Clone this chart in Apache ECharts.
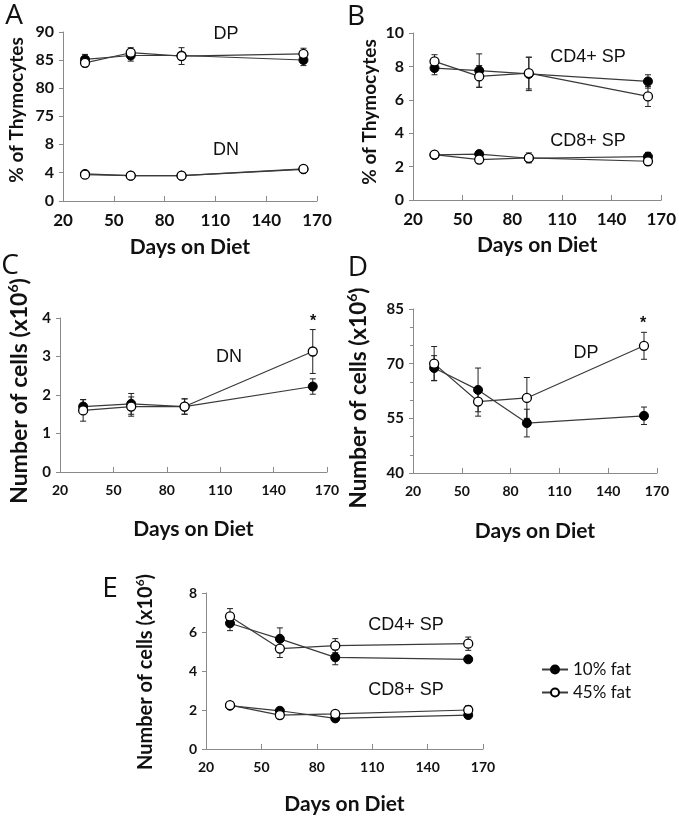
<!DOCTYPE html>
<html>
<head>
<meta charset="utf-8">
<script src="https://cdn.jsdelivr.net/npm/echarts@6/dist/echarts.min.js"></script>
<style>html,body{margin:0;padding:0;background:#fff}#c{width:679px;height:818px}</style>
</head>
<body>
<div id="c"></div>
<script>
// ---- data ----
const days = [33, 60, 90, 162];
const xTickMin = 20, xTickMax = 170, xTickStep = 30;
const seriesNames = ['10% fat', '45% fat'];

// Panel A (% of thymocytes)
const aDP_10 = [85.1, 85.8, 85.8, 85.0];
const aDP_10_err = [0.9, 1.0, 0.5, 1.0];
const aDP_45 = [84.5, 86.3, 85.7, 86.1];
const aDP_45_err = [0.7, 0.9, 1.5, 1.0];
const aDN_10 = [3.8, 3.55, 3.55, 4.45];
const aDN_10_err = [0.2, 0.15, 0.15, 0.2];
const aDN_45 = [3.7, 3.55, 3.55, 4.5];
const aDN_45_err = [0.2, 0.15, 0.15, 0.2];

// Panel B (% of thymocytes)
const bCD4_10 = [7.9, 7.75, 7.55, 7.1];
const bCD4_10_err = [0.4, 1.0, 1.0, 0.4];
const bCD4_45 = [8.3, 7.4, 7.6, 6.2];
const bCD4_45_err = [0.4, 0.65, 0.95, 0.6];
const bCD8_10 = [2.7, 2.75, 2.5, 2.6];
const bCD8_10_err = [0.15, 0.2, 0.2, 0.25];
const bCD8_45 = [2.72, 2.42, 2.52, 2.32];
const bCD8_45_err = [0.15, 0.15, 0.3, 0.25];

// Panel C (number of DN cells x10^6)
const cDN_10 = [1.7, 1.77, 1.7, 2.22];
const cDN_10_err = [0.18, 0.27, 0.2, 0.2];
const cDN_45 = [1.6, 1.7, 1.7, 3.13];
const cDN_45_err = [0.28, 0.25, 0.2, 0.57];

// Panel D (number of DP cells x10^6)
const dDP_10 = [68.8, 62.8, 53.7, 55.7];
const dDP_10_err = [3.4, 6.0, 3.8, 2.4];
const dDP_45 = [70.0, 59.6, 60.6, 74.9];
const dDP_45_err = [4.7, 4.0, 5.6, 3.7];

// Panel E (number of SP cells x10^6)
const eCD4_10 = [6.45, 5.65, 4.7, 4.6];
const eCD4_10_err = [0.38, 0.56, 0.38, 0.1];
const eCD4_45 = [6.8, 5.15, 5.3, 5.4];
const eCD4_45_err = [0.4, 0.46, 0.36, 0.34];
const eCD8_10 = [2.22, 1.96, 1.57, 1.74];
const eCD8_10_err = [0.1, 0.15, 0.1, 0.1];
const eCD8_45 = [2.25, 1.74, 1.8, 2.0];
const eCD8_45_err = [0.1, 0.12, 0.1, 0.22];

// ---- styling helpers ----
const AX = '#8a8a8a';
function tf(size) { return {fontFamily: 'Lato', fontWeight: 'bold', fontSize: size, color: '#111'}; }
const nameFont = {fontFamily: 'Lato', fontWeight: 'bold', fontSize: 21, color: '#111'};

function xAx(gi, show, nameGap, lsize) {
  return {
    type: 'value', gridIndex: gi, min: xTickMin, max: xTickMax, interval: xTickStep,
    show: show,
    name: show ? 'Days on Diet' : '', nameLocation: 'middle', nameGap: nameGap,
    nameTextStyle: nameFont,
    axisLine: {show: true, lineStyle: {color: AX, width: 1}},
    axisTick: {show: true, inside: true, length: 5, lineStyle: {color: AX}},
    axisLabel: Object.assign({margin: 11}, tf(lsize || 16)),
    splitLine: {show: false}
  };
}
function yAx(gi, min, max, interval, lsize, extra) {
  return Object.assign({
    type: 'value', gridIndex: gi, min: min, max: max, interval: interval,
    axisLine: {show: true, lineStyle: {color: AX, width: 1}},
    axisTick: {show: true, length: 4, lineStyle: {color: AX}},
    axisLabel: Object.assign({margin: 9}, tf(lsize)),
    splitLine: {show: false}
  }, extra || {});
}

const series = [];
function errSeries(gi, idx, vals, errs) {
  series.push({
    type: 'custom', name: seriesNames[idx] + ' SEM', xAxisIndex: gi, yAxisIndex: gi, z: 1,
    data: days.map((d, i) => [d, vals[i] - errs[i], vals[i] + errs[i]]),
    renderItem: function (params, api) {
      const lo = api.coord([api.value(0), api.value(1)]);
      const hi = api.coord([api.value(0), api.value(2)]);
      const w = 3;
      const st = {stroke: '#222', lineWidth: 1};
      return {type: 'group', children: [
        {type: 'line', shape: {x1: lo[0], y1: lo[1], x2: hi[0], y2: hi[1]}, style: st},
        {type: 'line', shape: {x1: lo[0] - w, y1: lo[1], x2: lo[0] + w, y2: lo[1]}, style: st},
        {type: 'line', shape: {x1: hi[0] - w, y1: hi[1], x2: hi[0] + w, y2: hi[1]}, style: st}
      ]};
    },
    tooltip: {show: false}
  });
}
function lineSeries(gi, idx, vals, errs) {
  errSeries(gi, idx, vals, errs);
  series.push({
    type: 'line', name: seriesNames[idx], xAxisIndex: gi, yAxisIndex: gi, z: 3,
    data: days.map((d, i) => [d, vals[i]]),
    symbol: 'circle', symbolSize: 9,
    color: idx === 0 ? '#000' : '#fff',
    lineStyle: {color: '#3a3a3a', width: 1.2},
    itemStyle: idx === 0 ? {color: '#000', borderColor: '#000', borderWidth: 1}
                         : {color: '#fff', borderColor: '#000', borderWidth: 1.3},
    emphasis: {disabled: true},
    animation: false
  });
}

// grids: 0 A-top, 1 A-bottom, 2 B, 3 C, 4 D, 5 E
lineSeries(0, 0, aDP_10, aDP_10_err);
lineSeries(0, 1, aDP_45, aDP_45_err);
lineSeries(1, 0, aDN_10, aDN_10_err);
lineSeries(1, 1, aDN_45, aDN_45_err);
lineSeries(2, 0, bCD4_10, bCD4_10_err);
lineSeries(2, 1, bCD4_45, bCD4_45_err);
lineSeries(2, 0, bCD8_10, bCD8_10_err);
lineSeries(2, 1, bCD8_45, bCD8_45_err);
lineSeries(3, 0, cDN_10, cDN_10_err);
lineSeries(3, 1, cDN_45, cDN_45_err);
lineSeries(4, 0, dDP_10, dDP_10_err);
lineSeries(4, 1, dDP_45, dDP_45_err);
lineSeries(5, 0, eCD4_10, eCD4_10_err);
lineSeries(5, 1, eCD4_45, eCD4_45_err);
lineSeries(5, 0, eCD8_10, eCD8_10_err);
lineSeries(5, 1, eCD8_45, eCD8_45_err);

function txt(x, y, text, font, extra) {
  return Object.assign({type: 'text', x: x, y: y, silent: true,
    style: {text: text, x: 0, y: 0, font: font, fill: '#111', align: 'center', verticalAlign: 'middle'}}, extra || {});
}
function rotName(x, y, plain, size) {
  if (plain) {
    return txt(x, y, plain, 'bold ' + size + 'px Lato', {rotation: Math.PI / 2});
  }
  const sup = Math.round(size * 0.62);
  return {type: 'text', x: x, y: y, rotation: Math.PI / 2, silent: true,
    style: {
      text: '{b|Number of cells (x10}{s|6}{b|)}', x: 0, y: 0,
      align: 'center', verticalAlign: 'middle',
      rich: {
        b: {fontFamily: 'Lato', fontWeight: 'bold', fontSize: size, fill: '#111', lineHeight: size + 4},
        s: {fontFamily: 'Lato', fontWeight: 'bold', fontSize: sup, fill: '#111', lineHeight: size + 4, verticalAlign: 'top', padding: [0, 0, Math.round(size * 0.4), 0]}
      }
    }};
}

const LET = '28px "Open Sans"';
const ANN = '18px "Liberation Sans"';

const option = {
  backgroundColor: '#fff',
  animation: false,
  grid: [
    {left: 63, top: 32, width: 254, height: 112},
    {left: 63, top: 144, width: 254, height: 57},
    {left: 413, top: 33, width: 252, height: 167},
    {left: 60, top: 318, width: 267, height: 154},
    {left: 413, top: 309, width: 244, height: 164},
    {left: 206, top: 593, width: 277, height: 156}
  ],
  xAxis: [xAx(0, false, 0, 17), xAx(1, true, 36, 17), xAx(2, true, 35, 17), xAx(3, true, 47, 14), xAx(4, true, 48, 14), xAx(5, true, 45, 14)],
  yAxis: [
    yAx(0, 70, 90, 5, 16, {axisLabel: Object.assign({margin: 9, formatter: v => v === 70 ? '' : String(v)}, tf(16))}),
    yAx(1, 0, 8, 4, 16),
    yAx(2, 0, 10, 2, 16),
    yAx(3, 0, 4, 1, 15),
    yAx(4, 40, 85, 15, 15, {minorTick: {show: true, splitNumber: 3, length: 3, lineStyle: {color: AX}}}),
    yAx(5, 0, 8, 2, 14)
  ],
  legend: {
    orient: 'vertical', left: 536, top: 656,
    data: seriesNames,
    itemWidth: 26, itemHeight: 10, itemGap: 6,
    textStyle: {fontFamily: 'Lato', fontSize: 17, color: '#111'},
    selectedMode: false
  },
  series: series,
  graphic: [
    txt(14, 16, 'A', LET), txt(356, 17, 'B', LET), txt(10, 266, 'C', LET), txt(358, 268, 'D', LET), txt(110, 589, 'E', LET),
    txt(226, 34, 'DP', ANN), txt(226, 150, 'DN', ANN),
    txt(588, 57, 'CD4+ SP', ANN), txt(588, 141, 'CD8+ SP', ANN),
    txt(229, 357, 'DN', ANN), txt(586, 353, 'DP', ANN),
    txt(406, 625, 'CD4+ SP', ANN), txt(406, 690, 'CD8+ SP', ANN),
    txt(313, 322, '*', 'bold 16px "Liberation Sans"'), txt(643, 324, '*', 'bold 16px "Liberation Sans"'),
    rotName(17, 110, '% of Thymocytes', 19), rotName(370, 112, '% of Thymocytes', 19),
    rotName(20, 391, null, 23), rotName(359, 398, null, 22.5), rotName(146, 672, null, 20)
  ]
};
echarts.init(document.getElementById('c'), null, {renderer: 'canvas'}).setOption(option);
</script>
</body>
</html>
